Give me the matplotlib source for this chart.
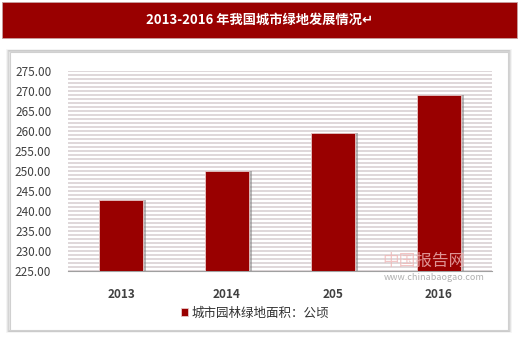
import numpy as np
import matplotlib.pyplot as plt
from matplotlib.patches import Rectangle

plt.rcParams['font.family'] = ['Noto Sans CJK SC', 'DejaVu Sans']

years = ['2013', '2014', '205', '2016']
area = [242.7, 250.0, 259.4, 268.9]
title = '2013-2016 年我国城市绿地发展情况↵'
legend_label = '城市园林绿地面积：公顷'

red = '#990000'

fig = plt.figure(figsize=(5.2, 3.41), dpi=100)
fig.patch.set_facecolor('white')

# title banner
fig.patches.append(Rectangle((2/520, 1 - 38/341), 515/520, 36/341, transform=fig.transFigure,
                             facecolor=red, edgecolor='#c8a0a0', lw=0.6, zorder=-2))
fig.text(0.5, 1 - 20/341, title, ha='center', va='center', color='white',
         fontsize=9.5, fontweight='bold')

# chart box with soft shadow
for i, a in enumerate([0.05, 0.08, 0.12]):
    d = (3 - i) / 520
    fig.patches.append(Rectangle((10/520 - d, 11/341 - d), 498/520 + 2*d, 278/341 + 2*d,
                                 transform=fig.transFigure, facecolor='none',
                                 edgecolor=(0, 0, 0, a), lw=1.2, zorder=-2))
fig.patches.append(Rectangle((10/520, 11/341), 498/520, 278/341, transform=fig.transFigure,
                             facecolor='white', edgecolor='#d0d0d0', lw=0.8, zorder=-1))

ax = fig.add_axes([68/520, 70/341, 424/520, 200/341])
ax.set_zorder(2)
ax.set_facecolor('none')
x = np.arange(len(years))

# shadow then bars
ax.bar(x + 0.03, np.array(area) - 225, bottom=225, width=0.415, color='#808080', alpha=0.55, zorder=2)
ax.bar(x, np.array(area) - 225, bottom=225, width=0.415, color=red, edgecolor='#e8c8c8',
       lw=0.6, zorder=3, label=legend_label)

ax.set_xlim(-0.5, len(years) - 0.5)
ax.set_ylim(225, 275)
ax.set_yticks(np.arange(225, 276, 5))
ax.set_yticklabels(['%.2f' % v for v in np.arange(225, 276, 5)])
ax.set_yticks(np.arange(225, 276, 1), minor=True)
ax.grid(axis='y', which='both', color='#d6cdd0', lw=1.1, zorder=1)
ax.set_axisbelow(True)
ax.set_xticks(x)
ax.set_xticklabels(years, fontweight='bold')
for s in ['top', 'right', 'left']:
    ax.spines[s].set_visible(False)
ax.spines['bottom'].set_color('#a0a0a0')
ax.tick_params(axis='both', which='both', length=0, colors='#404040', labelsize=8.5)
ax.tick_params(axis='y', pad=12)
ax.tick_params(axis='x', pad=12)

# watermark
fig.text(382/520, 1 - 261/341, '中国报告网', color='#f0b8b8', fontsize=12, ha='left', va='center', alpha=0.8, zorder=5)
fig.text(384/520, 1 - 278/341, 'www.chinabaogao.com', color='#b0b0b0', fontsize=6.5, ha='left', va='center', zorder=5)

leg = fig.legend(loc='center', bbox_to_anchor=(255/520, 1 - 313/341), frameon=False,
                 fontsize=9, handlelength=0.6, handleheight=0.6, handletextpad=0.3)
for t in leg.get_texts():
    t.set_color('#303030')

fig.savefig('out.png', dpi=100, facecolor='white')
